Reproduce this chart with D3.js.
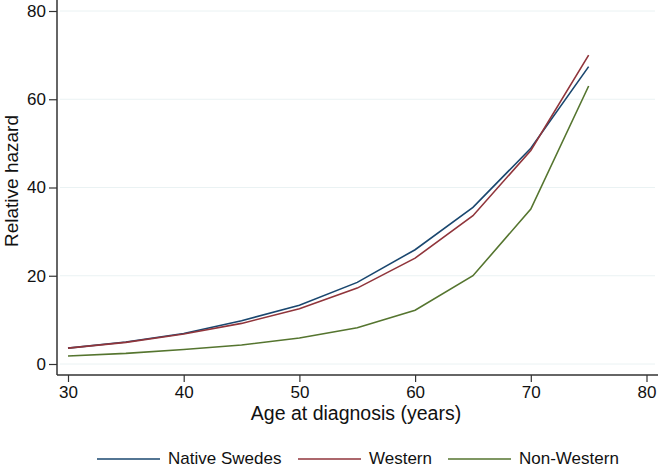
<!DOCTYPE html>
<html>
<head>
<meta charset="utf-8">
<script src="https://cdn.jsdelivr.net/npm/d3@7"></script>
<style>
  body { margin: 0; background: #fff; }
  text { font-family: "Liberation Sans", Arial, Helvetica, sans-serif; fill: #111; }
</style>
</head>
<body>
<svg id="chart" width="658" height="468"></svg>
<script>
const ages = [30, 35, 40, 45, 50, 55, 60, 65, 70, 75];
const nativeSwedes = [3.6, 5.0, 6.9, 9.8, 13.3, 18.5, 25.9, 35.5, 48.9, 67.4];
const western      = [3.6, 4.9, 6.8, 9.2, 12.5, 17.2, 24.0, 33.6, 48.4, 70.0];
const nonWestern   = [1.8, 2.4, 3.3, 4.3, 5.9, 8.2, 12.2, 20.0, 35.1, 63.0];
const seriesNames = ["Native Swedes", "Western", "Non-Western"];
const seriesColors = ["#1a476f", "#90353b", "#55752f"];
const xTicks = [30, 40, 50, 60, 70, 80];
const yTicks = [0, 20, 40, 60, 80];

const svg = d3.select("#chart");
const x = d3.scaleLinear().domain([30, 80]).range([68, 646.5]);
const y = d3.scaleLinear().domain([0, 80]).range([364, 11]);
const pLeft = 57, pBottom = 375, pRight = 658, pTop = 0;

// gridlines
svg.append("g").selectAll("line").data(yTicks).join("line")
  .attr("x1", pLeft + 3).attr("x2", pRight - 3)
  .attr("y1", d => y(d)).attr("y2", d => y(d))
  .attr("stroke", "#eaf2f3").attr("stroke-width", 1);

// y axis
const yAxis = svg.append("g").attr("transform", `translate(${pLeft},0)`)
  .call(d3.axisLeft(y).tickValues(yTicks).tickSize(8).tickPadding(3));
yAxis.select(".domain").attr("d", `M0,${pTop}V${pBottom}`);
// x axis
const xAxis = svg.append("g").attr("transform", `translate(0,${pBottom})`)
  .call(d3.axisBottom(x).tickValues(xTicks).tickSize(7).tickPadding(4));
xAxis.select(".domain").attr("d", `M${pLeft},0H${pRight}`);

[yAxis, xAxis].forEach(a => {
  a.select(".domain").attr("stroke", "#333").attr("stroke-width", 1.5);
  a.selectAll(".tick line").attr("stroke", "#333").attr("stroke-width", 1.2);
  a.selectAll(".tick text").attr("font-size", 17).attr("fill", "#111")
    .style("font-family", '"Liberation Sans", Arial, sans-serif');
});

// lines
const data = [nativeSwedes, western, nonWestern];
const line = d3.line().x((d, i) => x(ages[i])).y(d => y(d));
svg.append("g").selectAll("path").data(data).join("path")
  .attr("d", d => line(d))
  .attr("fill", "none")
  .attr("stroke", (d, i) => seriesColors[i])
  .attr("stroke-width", 1.6);

// axis titles
svg.append("text").attr("x", 356).attr("y", 420).attr("text-anchor", "middle")
  .attr("font-size", 19.5).text("Age at diagnosis (years)");
svg.append("text").attr("transform", "translate(18,181) rotate(-90)")
  .attr("text-anchor", "middle").attr("font-size", 19).text("Relative hazard");

// legend
const legendX = [97, 298, 448];
const lg = svg.append("g").selectAll("g").data(seriesNames).join("g")
  .attr("transform", (d, i) => `translate(${legendX[i]},459)`);
lg.append("line").attr("x1", 0).attr("x2", 63).attr("y1", 0).attr("y2", 0)
  .attr("stroke", (d, i) => seriesColors[i]).attr("stroke-width", 1.6);
lg.append("text").attr("x", 71).attr("y", 5).attr("font-size", 17).text(d => d);
</script>
</body>
</html>
